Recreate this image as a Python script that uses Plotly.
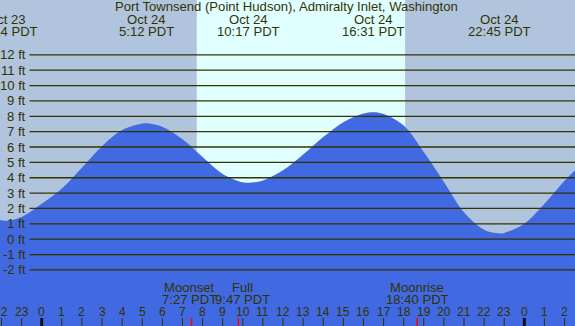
import plotly.graph_objects as go

# ---------------- data ----------------
tide_hours = [-3, -2.5, -2, -1.77, -1, 0, 1, 2, 3, 4, 5, 5.2, 6, 7, 8, 9, 10, 10.28,
              11, 12, 13, 14, 15, 16, 16.52, 17, 18, 19, 20, 21, 22, 22.75, 23, 24, 25, 26, 27]
tide_ft = [1.55, 1.33, 1.23, 1.2, 1.45, 2.3, 3.3, 4.65, 6.05, 7.1, 7.53, 7.55, 7.32, 6.5, 5.35, 4.25, 3.7, 3.67,
           3.82, 4.48, 5.51, 6.65, 7.62, 8.18, 8.26, 8.15, 7.4, 5.67, 3.73, 1.76, 0.62, 0.38, 0.41, 1.0, 2.3, 3.8, 5.1]

extreme_hours = [-1.767, 5.2, 10.283, 16.517, 22.75]
extreme_dates = ["Oct 23", "Oct 24", "Oct 24", "Oct 24", "Oct 24"]
extreme_times = ["22:14 PDT", "5:12 PDT", "10:17 PDT", "16:31 PDT", "22:45 PDT"]

moon_hours = [7.45, 9.783, 18.667]
moon_names = ["Moonset", "Full", "Moonrise"]
moon_times = ["7:27 PDT", "9:47 PDT", "18:40 PDT"]

sunrise_hour = 7.71
sunset_hour = 18.07

ft_levels = list(range(-2, 13))
ft_labels = [f"{v} ft" for v in ft_levels]

tick_hours = list(range(-2, 27))
tick_labels = [str(h % 24) for h in tick_hours]

title = "Port Townsend (Point Hudson), Admiralty Inlet, Washington"

# ---------------- style ----------------
W, H = 575, 326
x_range = [-2.074, 26.52]
y_range = [-5.65, 15.57]
BG = "#b0c4de"
DAY = "#e0ffff"
TIDE = "#4169e1"
INK = "#333300"
FONT = "Liberation Sans"


def py(px):
    return 1 - px / H


fig = go.Figure()
fig.add_trace(go.Scatter(x=tide_hours, y=[y_range[0] - 1] * len(tide_hours), mode="lines",
                         line=dict(width=0, color=TIDE), hoverinfo="skip", showlegend=False))
fig.add_trace(go.Scatter(x=tide_hours, y=tide_ft, mode="lines", fill="tonexty", fillcolor=TIDE,
                         line=dict(width=0, color=TIDE, shape="spline", smoothing=1.0),
                         hoverinfo="skip", showlegend=False))

shapes = []
shapes.append(dict(type="rect", xref="x", yref="paper", x0=sunrise_hour, x1=sunset_hour, y0=0, y1=1,
                   fillcolor=DAY, line=dict(width=0), layer="below"))
for v in ft_levels:
    shapes.append(dict(type="line", xref="paper", yref="y", x0=29.5 / W, x1=1, y0=v, y1=v,
                       line=dict(color=INK, width=1.3), layer="above"))
for h in tick_hours:
    midnight = (h % 24 == 0)
    shapes.append(dict(type="line", xref="x", yref="paper", x0=h, x1=h, y0=0, y1=py(318),
                       line=dict(color="#111111" if midnight else INK, width=3 if midnight else 1),
                       layer="above"))
for h in moon_hours:
    shapes.append(dict(type="line", xref="x", yref="paper", x0=h, x1=h, y0=0, y1=py(318),
                       line=dict(color="red", width=1.5), layer="above"))

ann = []
font = dict(family=FONT, size=13.1, color=INK)
ann.append(dict(text=title, xref="paper", yref="paper", x=0.4985, y=py(7), xanchor="center",
                yanchor="middle", showarrow=False, font=font))
for h, d, t in zip(extreme_hours, extreme_dates, extreme_times):
    ann.append(dict(text=d, xref="x", yref="paper", x=h, y=py(20), xanchor="center", yanchor="middle",
                    showarrow=False, font=font))
    ann.append(dict(text=t, xref="x", yref="paper", x=h, y=py(32), xanchor="center", yanchor="middle",
                    showarrow=False, font=font))
moon_shift = [-2, 4, 0]
for h, n, t, s in zip(moon_hours, moon_names, moon_times, moon_shift):
    ann.append(dict(text=n, xref="x", yref="paper", x=h, y=py(287.5), xanchor="center", yanchor="middle",
                    xshift=s, showarrow=False, font=font))
    ann.append(dict(text=t, xref="x", yref="paper", x=h, y=py(299.5), xanchor="center", yanchor="middle",
                    xshift=s, showarrow=False, font=font))
for v, lab in zip(ft_levels, ft_labels):
    ann.append(dict(text=lab, xref="paper", yref="y", x=27.5 / W, y=v, xanchor="right", yanchor="middle",
                    showarrow=False, font=font))
for h, lab in zip(tick_hours, tick_labels):
    ann.append(dict(text=lab, xref="x", yref="paper", x=h, y=py(311.5), xanchor="center", yanchor="middle",
                    showarrow=False, font=dict(family=FONT, size=12, color=INK)))

fig.update_layout(
    width=W, height=H, margin=dict(l=0, r=0, t=0, b=0, pad=0),
    paper_bgcolor=BG, plot_bgcolor=BG,
    xaxis=dict(range=x_range, visible=False, fixedrange=True),
    yaxis=dict(range=y_range, visible=False, fixedrange=True),
    shapes=shapes, annotations=ann, showlegend=False,
)
fig.write_html("out.html", config={"displayModeBar": False},
               post_script="document.body.style.margin='0';document.body.style.overflow='hidden';")
